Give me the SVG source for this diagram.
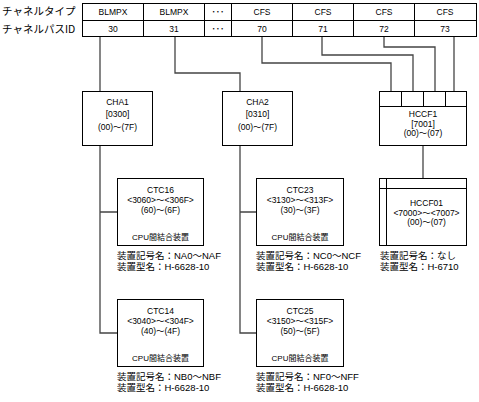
<svg xmlns="http://www.w3.org/2000/svg" width="479" height="402" viewBox="0 0 479 402">
<style>
text{font-family:"Liberation Sans","Noto Sans CJK JP",sans-serif;fill:#000}
.t{font-size:8.5px;text-anchor:middle}
.s{font-size:8.5px;text-anchor:middle}
.c{font-size:8px;text-anchor:middle}
.h{font-size:10.5px;font-family:"Noto Sans CJK JP",sans-serif}
.l{font-size:9.5px}
.b{fill:#fff;stroke:#000;stroke-width:1}
.ln{fill:none;stroke:#444;stroke-width:1.3}
</style>
<rect width="479" height="402" fill="#fff"/>
<g id="header">
<text class="h" x="2" y="15">チャネルタイプ</text>
<text class="h" x="2" y="33">チャネルパスID</text>
<rect class="b" x="82.5" y="3.5" width="394" height="33"/>
<path d="M82.5 20.5H476.5M143.5 3.5V36.5M204.5 3.5V36.5M231.5 3.5V36.5M292.5 3.5V36.5M353.5 3.5V36.5M414.5 3.5V36.5" stroke="#000" fill="none"/>
<text class="t" x="113" y="15">BLMPX</text>
<text class="t" x="174" y="15">BLMPX</text>
<text class="t" x="218" y="15">･･･</text>
<text class="t" x="262" y="15">CFS</text>
<text class="t" x="323" y="15">CFS</text>
<text class="t" x="384" y="15">CFS</text>
<text class="t" x="445" y="15">CFS</text>
<text class="t" x="113" y="32">30</text>
<text class="t" x="174" y="32">31</text>
<text class="t" x="218" y="32">･･･</text>
<text class="t" x="262" y="32">70</text>
<text class="t" x="323" y="32">71</text>
<text class="t" x="384" y="32">72</text>
<text class="t" x="445" y="32">73</text>
</g>
<g id="connectors">
<path class="ln" d="M100 37V91"/>
<path class="ln" d="M175 37V73H240V91"/>
<path class="ln" d="M262 37V63H391V91"/>
<path class="ln" d="M322 37V55H413V91"/>
<path class="ln" d="M384 37V47H435V91"/>
<path class="ln" d="M454 37V91"/>
<path class="ln" d="M100 146V333H117M100 212H117"/>
<path class="ln" d="M240 146V333H256M240 212H256"/>
<path class="ln" d="M423 146V178"/>
</g>
<g id="CHA1">
<rect class="b" x="82.5" y="91.5" width="70" height="54"/>
<text class="s" x="117.5" y="105">CHA1</text>
<text class="s" x="117.5" y="117">[0300]</text>
<text class="s" x="117.5" y="130">(00)～(7F)</text>
</g>
<g id="CHA2">
<rect class="b" x="222.5" y="91.5" width="70" height="54"/>
<text class="s" x="257.5" y="105">CHA2</text>
<text class="s" x="257.5" y="117">[0310]</text>
<text class="s" x="257.5" y="130">(00)～(7F)</text>
</g>
<g id="HCCF1">
<rect class="b" x="379.5" y="91.5" width="87" height="54"/>
<path d="M379.5 106.5H466.5M401.5 91.5V106.5M423.5 91.5V106.5M445.5 91.5V106.5" stroke="#000" fill="none"/>
<text class="s" x="423" y="117">HCCF1</text>
<text class="s" x="423" y="126.5">[7001]</text>
<text class="s" x="423" y="136">(00)～(07)</text>
</g>
<g id="CTC16">
<rect class="b" x="117.5" y="178.5" width="86" height="67"/>
<text class="s" x="160.5" y="193">CTC16</text>
<text class="s" x="160.5" y="203">&lt;3060&gt;～&lt;306F&gt;</text>
<text class="s" x="160.5" y="212.5">(60)～(6F)</text>
<text class="c" x="160.5" y="239.5">CPU間結合装置</text>
<text class="l" x="117" y="258.5">装置記号名：NA0～NAF</text>
<text class="l" x="117" y="269.5">装置型名：H-6628-10</text>
</g>
<g id="CTC14">
<rect class="b" x="117.5" y="299.5" width="86" height="67"/>
<text class="s" x="160.5" y="314">CTC14</text>
<text class="s" x="160.5" y="324">&lt;3040&gt;～&lt;304F&gt;</text>
<text class="s" x="160.5" y="333.5">(40)～(4F)</text>
<text class="c" x="160.5" y="360.5">CPU間結合装置</text>
<text class="l" x="117" y="379.5">装置記号名：NB0～NBF</text>
<text class="l" x="117" y="390.5">装置型名：H-6628-10</text>
</g>
<g id="CTC23">
<rect class="b" x="256.5" y="178.5" width="87" height="67"/>
<text class="s" x="300" y="193">CTC23</text>
<text class="s" x="300" y="203">&lt;3130&gt;～&lt;313F&gt;</text>
<text class="s" x="300" y="212.5">(30)～(3F)</text>
<text class="c" x="300" y="239.5">CPU間結合装置</text>
<text class="l" x="256" y="258.5">装置記号名：NC0～NCF</text>
<text class="l" x="256" y="269.5">装置型名：H-6628-10</text>
</g>
<g id="CTC25">
<rect class="b" x="256.5" y="299.5" width="87" height="67"/>
<text class="s" x="300" y="314">CTC25</text>
<text class="s" x="300" y="324">&lt;3150&gt;～&lt;315F&gt;</text>
<text class="s" x="300" y="333.5">(50)～(5F)</text>
<text class="c" x="300" y="360.5">CPU間結合装置</text>
<text class="l" x="256" y="379.5">装置記号名：NF0～NFF</text>
<text class="l" x="256" y="390.5">装置型名：H-6628-10</text>
</g>
<g id="HCCF01">
<rect class="b" x="379.5" y="178.5" width="87" height="67"/>
<path d="M379.5 188.5H466.5M386.5 178.5V245.5" stroke="#000" fill="none"/>
<text class="s" x="426.5" y="205.5">HCCF01</text>
<text class="s" x="426.5" y="215.5">&lt;7000&gt;～&lt;7007&gt;</text>
<text class="s" x="426.5" y="225">(00)～(07)</text>
<text class="l" x="380" y="258.5">装置記号名：なし</text>
<text class="l" x="380" y="269.5">装置型名：H-6710</text>
</g>
</svg>
